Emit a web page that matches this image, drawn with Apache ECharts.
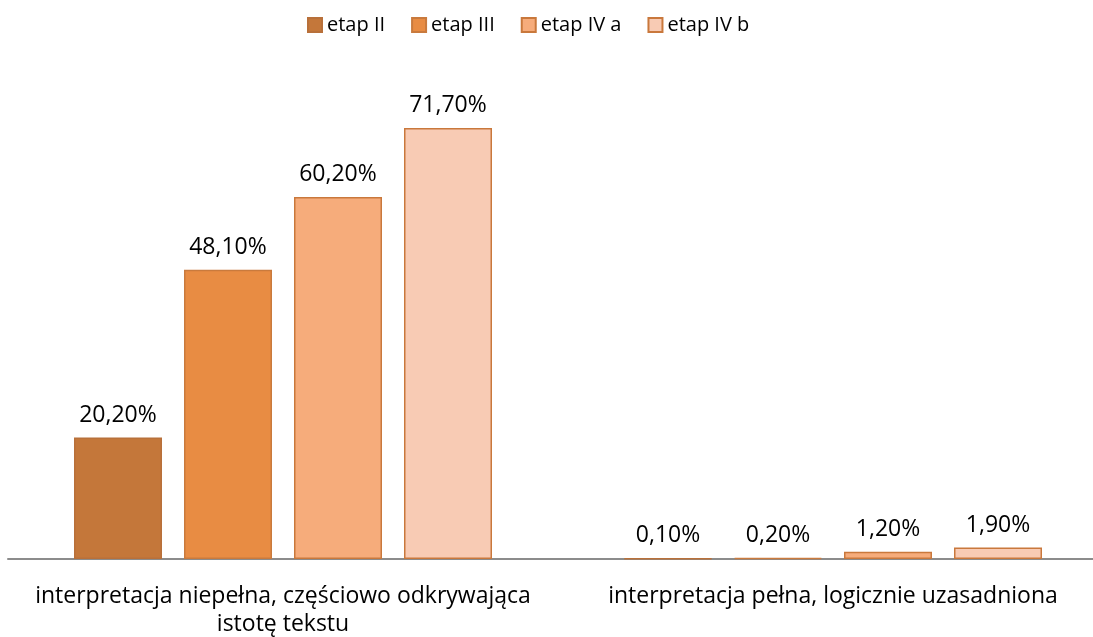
<!DOCTYPE html>
<html>
<head>
<meta charset="utf-8">
<script src="https://cdn.jsdelivr.net/npm/echarts@6/dist/echarts.min.js"></script>
<style>html,body{margin:0;padding:0;background:#fff}#c{width:1093px;height:637px}</style>
</head>
<body>
<div id="c"></div>
<script>
const categories = ["interpretacja niepełna, częściowo odkrywająca\nistotę tekstu", "interpretacja pełna, logicznie uzasadniona"];
const seriesNames = ["etap II", "etap III", "etap IV a", "etap IV b"];
const etapII = [20.2, 0.1];
const etapIII = [48.1, 0.2];
const etapIVa = [60.2, 1.2];
const etapIVb = [71.7, 1.9];
const values = [etapII, etapIII, etapIVa, etapIVb];
const fills = ["#C4773A", "#E88C43", "#F6AC7B", "#F8CBB4"];
const borders = ["#B8703A", "#C97A3D", "#C9783C", "#C9783C"];
const FONT = "Open Sans";

const chart = echarts.init(document.getElementById('c'), null, {renderer: 'canvas'});
chart.setOption({
  animation: false,
  textStyle: {fontFamily: FONT},
  legend: {
    top: 10, left: 302, icon: 'rect',
    itemWidth: 14, itemHeight: 14, itemGap: 26,
    textStyle: {fontFamily: FONT, fontSize: 20, color: '#000'},
    data: seriesNames
  },
  grid: {left: 8, width: 1100, top: 78, bottom: 78, containLabel: false, outerBoundsMode: 'none'},
  xAxis: {
    type: 'category', data: categories,
    axisLine: {lineStyle: {color: '#8C8C8C', width: 2}},
    axisTick: {show: false},
    axisLabel: {fontFamily: FONT, fontSize: 23, color: '#000', margin: 23, lineHeight: 28, interval: 0}
  },
  yAxis: {type: 'value', min: 0, max: 80, show: false, splitLine: {show: false}},
  series: seriesNames.map((n, i) => ({
    name: n, type: 'bar', data: values[i],
    barWidth: 88, barGap: '25%',
    itemStyle: {color: fills[i], borderColor: borders[i], borderWidth: 1.5},
    label: {
      show: true, position: 'top', distance: 11,
      fontFamily: FONT, fontSize: 23, color: '#000',
      formatter: p => p.value.toFixed(2).replace('.', ',') + '%'
    }
  }))
});
</script>
</body>
</html>
